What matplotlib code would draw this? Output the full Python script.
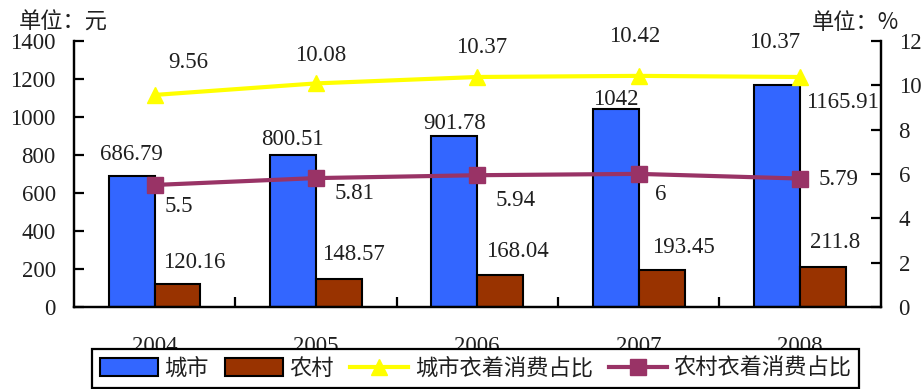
import numpy as np
import matplotlib
matplotlib.use('Agg')
import matplotlib.pyplot as plt
from matplotlib.patches import Patch
from matplotlib.lines import Line2D

# data
years = ['2004', '2005', '2006', '2007', '2008']
city = [686.79, 800.51, 901.78, 1042, 1165.91]
rural = [120.16, 148.57, 168.04, 193.45, 211.8]
city_pct = [9.56, 10.08, 10.37, 10.42, 10.37]
rural_pct = [5.5, 5.81, 5.94, 6, 5.79]
city_lbl = ['686.79', '800.51', '901.78', '1042', '1165.91']
rural_lbl = ['120.16', '148.57', '168.04', '193.45', '211.8']
city_pct_lbl = ['9.56', '10.08', '10.37', '10.42', '10.37']
rural_pct_lbl = ['5.5', '5.81', '5.94', '6', '5.79']

num_font = ['Liberation Serif', 'DejaVu Serif']
cjk_font = ['Noto Sans CJK SC', 'DejaVu Sans']
txt_col = '#1f1f1f'
fs = 16.5

fig = plt.figure(figsize=(9.23, 3.89), dpi=100)
ax = fig.add_axes([0.080, 0.211, 0.874, 0.684])
ax2 = ax.twinx()

x = np.arange(len(years))
w = 0.285
ax.bar(x - w / 2, city, w, color='#3366FF', edgecolor='black', linewidth=1.5, zorder=2)
ax.bar(x + w / 2, rural, w, color='#993300', edgecolor='black', linewidth=1.5, zorder=2)

ax2.plot(x, city_pct, color='#FFFF00', lw=3, marker='^', ms=11, zorder=3)
ax2.plot(x, rural_pct, color='#993366', lw=3, marker='s', ms=11, zorder=3)

ax.set_xlim(-0.5, 4.5)
ax.set_ylim(0, 1400)
ax2.set_ylim(0, 12)

# px -> pt offsets (dx, dy up)
city_off = [(0, 22), (0, 15), (0, 12), (0, 9), (66, -17)]
rural_off = [(17, 22), (15, 24), (17, 23), (22, 23), (12, 24)]
cpct_off = [(34, 32), (5, 28), (4, 29), (-4, 39), (-25, 34)]
rpct_off = [(24, -22), (39, -15), (38, -25), (22, -21), (39, -1)]

def lab(axis, xs, ys, texts, offs):
    for xi, yi, t, (dx, dy) in zip(xs, ys, texts, offs):
        axis.annotate(t, (xi, yi), xytext=(dx * 0.72, dy * 0.72), textcoords='offset points',
                      ha='center', va='center', fontsize=fs, family=num_font,
                      color=txt_col, zorder=5)

lab(ax, x - w / 2, city, city_lbl, city_off)
lab(ax, x + w / 2, rural, rural_lbl, rural_off)
lab(ax2, x, city_pct, city_pct_lbl, cpct_off)
lab(ax2, x, rural_pct, rural_pct_lbl, rpct_off)

# axes styling
for a in (ax, ax2):
    a.spines['top'].set_visible(False)
    for s in ('left', 'right', 'bottom'):
        a.spines[s].set_linewidth(1.6)
ax.set_yticks(np.arange(0, 1401, 200))
ax2.set_yticks(np.arange(0, 13, 2))
ax.tick_params(axis='y', direction='in', length=7, width=1.6, pad=13,
               labelsize=fs, labelcolor=txt_col)
ax2.tick_params(axis='y', direction='in', length=7, width=1.6, pad=13,
                labelsize=fs, labelcolor=txt_col)
for t in ax.get_yticklabels() + ax2.get_yticklabels():
    t.set_family(num_font)

ax.set_xticks([0.5, 1.5, 2.5, 3.5])
ax.set_xticklabels([])
ax.tick_params(axis='x', which='major', direction='in', length=7, width=1.6)
ax.set_xticks(x, minor=True)
ax.set_xticklabels(years, minor=True)
ax.tick_params(axis='x', which='minor', length=0, pad=21, labelsize=fs, labelcolor=txt_col)
for t in ax.get_xticklabels(minor=True):
    t.set_family(num_font)

fig.text(0.020, 0.943, '单位：元', fontsize=16, family=cjk_font, color=txt_col, va='center')
fig.text(0.880, 0.943, '单位：%', fontsize=16, family=cjk_font, color=txt_col, va='center')

handles = [
    Patch(facecolor='#3366FF', edgecolor='black', linewidth=1.5),
    Patch(facecolor='#993300', edgecolor='black', linewidth=1.5),
    Line2D([], [], color='#FFFF00', lw=3, marker='^', ms=11),
    Line2D([], [], color='#993366', lw=3, marker='s', ms=11),
]
names = ['城市', '农村', '城市衣着消费占比', '农村衣着消费占比']
leg = fig.legend(handles, names, loc='lower left', bbox_to_anchor=(0.0997, 0.003, 0.831, 0.11),
                 ncol=4, mode='expand', frameon=True, fancybox=False, framealpha=1,
                 edgecolor='black', prop={'family': cjk_font, 'size': 16},
                 handlelength=2.6, handleheight=0.85, handletextpad=0.3, columnspacing=0.6,
                 borderaxespad=0, numpoints=1, borderpad=0.35)
leg.get_frame().set_linewidth(1.6)
for t in leg.get_texts():
    t.set_color(txt_col)

fig.savefig('out.png', dpi=100)
